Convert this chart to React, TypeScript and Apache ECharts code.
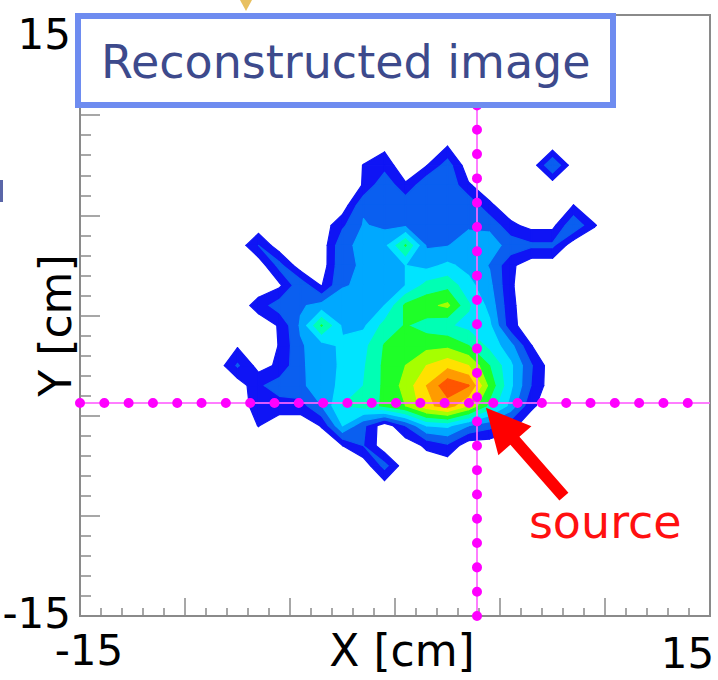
import React, { useEffect, useRef } from "react";
import * as echarts from "echarts";

// Axis range of the detector plane (cm)
const AXIS_MIN = -15;
const AXIS_MAX = 15;
const MAJOR_STEP = 5;

// Reconstructed intensity on a 1 cm bin-centre grid.
// First column is X = -8.5, first row is Y = 8.5 (rows run downwards in Y).
const GRID_X0 = -8.5;
const GRID_Y_TOP = 8.5;
const GRID_STEP = 1;

const INTENSITY: number[][] = [
  [0, 0, 0, 0, 0, 0, 0, 0, 0.6, 0, 0.5, 0.9, 0, 0, 0, 0, 0, 0, 0],
  [0, 0, 0, 0, 0, 0, 0, 1.05, 1.8, 0, 0.9, 3.2, 0, 0, 0, 0, 4, 0, 0],
  [0, 0, 0, 0, 0, 0, 0, 1.1, 3.8, 1.2, 3.8, 3.8, 1.2, 0, 0, 0, 0, 0, 0],
  [0, 0, 0, 0, 0, 0, 0, 3.8, 3.7, 3.7, 3.7, 3.7, 3.7, 1.3, 0, 0, 0, 1.02, 0],
  [0, 0, 0, 0, 0, 0, 2.2, 4.1, 3.7, 3.7, 3.7, 3.7, 3.7, 3.7, 1.35, 0.5, 0.5, 3.8, 1.1],
  [0, 0, 2.5, 0, 0, 0, 3.7, 4.3, 5, 8.6, 3.8, 3.9, 5, 4.6, 3.5, 2.8, 2.8, 0, 0],
  [0, 0, 0, 3.0, 0, 0, 3.8, 4.1, 4.4, 5.5, 5, 5.8, 5, 3.9, 1.35, 0, 0, 0, 0],
  [0, 0, 0, 0.7, 3.6, 0.9, 3.9, 4.2, 4.5, 5.5, 7.5, 8, 6, 4.4, 1.2, 0, 0, 0, 0],
  [0, 0, 1.7, 3.3, 3.8, 4.5, 4.6, 4.6, 5.5, 8.8, 9.6, 10.3, 7.2, 5, 1.35, 0, 0, 0, 0],
  [0, 0, 0, 1.15, 4.2, 8.6, 5.2, 5.2, 7.5, 8.6, 7.8, 7.2, 6.5, 5.8, 1.5, 0, 0, 0, 0],
  [0, 0.8, 0, 1.08, 3.8, 4.8, 5.8, 6.5, 8.6, 9.2, 9.5, 9.6, 8.5, 6.5, 4.5, 1.02, 0, 0, 0],
  [0, 2.7, 0.4, 1.3, 3.8, 4.6, 5.8, 6.8, 8.8, 10, 11.5, 12.5, 11.5, 8.5, 5.8, 2.6, 0, 0, 0],
  [0, 0, 2.2, 3.3, 3.8, 4.5, 6, 7, 8.8, 10.5, 13, 15.5, 14.6, 9.5, 5.8, 2.4, 0, 0, 0],
  [0, 0, 1.8, 1.8, 1.8, 4, 7, 7.5, 8.8, 10, 12.5, 13.8, 11.5, 8, 5, 1.3, 0, 0, 0],
  [0, 0, 1.05, 0, 0, 1.1, 5.5, 2.8, 0, 2.5, 5.5, 5.8, 4, 3, 1.5, 0, 0, 0, 0],
  [0, 0, 0, 0, 0, 0, 0.98, 2.5, 0, 0, 1.3, 2.2, 0, 0, 0, 0, 0, 0, 0],
  [0, 0, 0, 0, 0, 0, 0, 0, 3, 0, 0, 0, 0, 0, 0, 0, 0, 0, 0],
  [0, 0, 0, 0, 0, 0, 0, 0, 0.3, 0, 0, 0, 0, 0, 0, 0, 0, 0, 0],
];

// Contour levels and the fill colour of each band (rainbow palette)
const LEVELS = [1, 2.5, 4, 5.5, 7, 8.5, 10, 11.5, 13, 14.5];
const LEVEL_COLORS = [
  "#0f14f5",
  "#0a5ff0",
  "#00a8ff",
  "#00e4ff",
  "#00ffb4",
  "#1eff28",
  "#a6ff00",
  "#ffe100",
  "#ff9b00",
  "#ff5500",
];

// True source position (cm)
const SOURCE_X = 3.9;
const SOURCE_Y = -4.35;

const TITLE = "Reconstructed image";
const X_NAME = "X [cm]";
const Y_NAME = "Y [cm]";
const SOURCE_LABEL = "source";

const FONT = "DejaVu Sans";
const AXIS_GREY = "#8a8a8a";

const N_ROWS = INTENSITY.length;
const N_COLS = INTENSITY[0].length;

// Node value with a ring of zeros around the stored block (padded indices)
function nodeAt(r: number, c: number): number {
  const rr = r - 1;
  const cc = c - 1;
  if (rr < 0 || rr >= N_ROWS || cc < 0 || cc >= N_COLS) return 0;
  return INTENSITY[rr][cc];
}
const nodeX = (c: number) => GRID_X0 + (c - 1) * GRID_STEP;
const nodeY = (r: number) => GRID_Y_TOP - (r - 1) * GRID_STEP;

// One data item per grid cell that reaches the lowest level
function buildCells(): number[][] {
  const cells: number[][] = [];
  for (let r = 0; r <= N_ROWS; r++) {
    for (let c = 0; c <= N_COLS; c++) {
      const vs = [nodeAt(r + 1, c), nodeAt(r + 1, c + 1), nodeAt(r, c + 1), nodeAt(r, c)];
      if (Math.max(...vs) < LEVELS[0]) continue;
      cells.push([nodeX(c) + GRID_STEP / 2, nodeY(r) - GRID_STEP / 2, c, r]);
    }
  }
  return cells;
}

// Filled contour bands of one cell: for every level, walk the cell
// perimeter and keep the part at or above the level (linear along edges).
// z2 stacks the bands by level across all cells so that the seam strokes
// of a lower band never cover a higher one.
function renderCell(_params: any, api: any) {
  const c = api.value(2) as number;
  const r = api.value(3) as number;
  const corners = [
    { x: nodeX(c), y: nodeY(r + 1), v: nodeAt(r + 1, c) },
    { x: nodeX(c + 1), y: nodeY(r + 1), v: nodeAt(r + 1, c + 1) },
    { x: nodeX(c + 1), y: nodeY(r), v: nodeAt(r, c + 1) },
    { x: nodeX(c), y: nodeY(r), v: nodeAt(r, c) },
  ];
  const children: any[] = [];
  LEVELS.forEach((level, k) => {
    const pts: number[][] = [];
    for (let e = 0; e < 4; e++) {
      const p = corners[e];
      const q = corners[(e + 1) % 4];
      const pin = p.v >= level;
      const qin = q.v >= level;
      if (pin) pts.push(api.coord([p.x, p.y]));
      if (pin !== qin) {
        const t = (level - p.v) / (q.v - p.v);
        pts.push(api.coord([p.x + t * (q.x - p.x), p.y + t * (q.y - p.y)]));
      }
    }
    if (pts.length >= 3) {
      children.push({
        type: "polygon",
        z2: k,
        shape: { points: pts },
        style: { fill: LEVEL_COLORS[k], stroke: LEVEL_COLORS[k], lineWidth: 1.2, lineJoin: "round" },
      });
    }
  });
  return { type: "group", children };
}

const tickLabelStyle = { fontSize: 42, fontFamily: FONT, color: "#000", lineHeight: 42 };

export default function App() {
  const ref = useRef<HTMLDivElement>(null);

  useEffect(() => {
    if (!ref.current) return;
    const chart = echarts.init(ref.current, undefined, { renderer: "svg" });

    const option: any = {
      animation: false,
      backgroundColor: "#ffffff",
      title: {
        text: TITLE,
        left: 78,
        top: 16,
        padding: [23, 23, 20, 23],
        borderColor: "#6e8cf0",
        borderWidth: 6,
        backgroundColor: "#ffffff",
        textStyle: {
          fontSize: 46,
          lineHeight: 46,
          fontWeight: "normal",
          color: "#3d4a8c",
          fontFamily: FONT,
        },
      },
      grid: {
        left: 80,
        top: 15,
        right: 8,
        bottom: 64,
        containLabel: false,
        outerBoundsMode: "none",
        show: true,
        borderColor: AXIS_GREY,
        borderWidth: 2,
        backgroundColor: "transparent",
      },
      xAxis: {
        type: "value",
        min: AXIS_MIN,
        max: AXIS_MAX,
        interval: MAJOR_STEP,
        axisLine: { show: true, onZero: false, lineStyle: { color: AXIS_GREY, width: 2 } },
        axisTick: { show: true, inside: true, length: 18, lineStyle: { color: AXIS_GREY, width: 1.5 } },
        minorTick: { show: true, splitNumber: 5, length: 8, lineStyle: { color: AXIS_GREY, width: 1.5 } },
        splitLine: { show: false },
        axisLabel: {
          margin: 13,
          formatter: (v: number) =>
            v === AXIS_MIN ? `{lo|${v}}` : v === AXIS_MAX ? `{hi|${v}}` : "",
          rich: {
            lo: { ...tickLabelStyle, padding: [0, 0, 0, 18] },
            hi: { ...tickLabelStyle, padding: [6, 45, 0, 0] },
          },
        },
        name: X_NAME,
        nameLocation: "middle",
        nameGap: 12,
        nameMoveOverlap: false,
        nameTextStyle: { fontSize: 44, fontFamily: FONT, color: "#000", padding: [0, 0, 0, 14] },
      },
      yAxis: {
        type: "value",
        min: AXIS_MIN,
        max: AXIS_MAX,
        interval: MAJOR_STEP,
        axisLine: { show: true, onZero: false, lineStyle: { color: AXIS_GREY, width: 2 } },
        axisTick: { show: true, inside: true, length: 20, lineStyle: { color: AXIS_GREY, width: 1.5 } },
        minorTick: { show: true, splitNumber: 5, length: 11, lineStyle: { color: AXIS_GREY, width: 1.5 } },
        splitLine: { show: false },
        axisLabel: {
          margin: 9,
          formatter: (v: number) =>
            v === AXIS_MIN ? `{lo|${v}}` : v === AXIS_MAX ? `{hi|${v}}` : "",
          rich: {
            lo: { ...tickLabelStyle, padding: [0, 0, 6, 0] },
            hi: { ...tickLabelStyle, padding: [38, 0, 0, 0] },
          },
        },
        name: Y_NAME,
        nameLocation: "middle",
        nameGap: 3,
        nameMoveOverlap: false,
        nameTextStyle: { fontSize: 44, fontFamily: FONT, color: "#000", padding: [0, 20, 0, 0] },
      },
      series: [
        {
          type: "custom",
          name: "intensity",
          coordinateSystem: "cartesian2d",
          renderItem: renderCell,
          data: buildCells(),
          encode: { x: 0, y: 1 },
          clip: true,
          silent: true,
          z: 2,
        },
        {
          type: "line",
          name: "source guide",
          data: [],
          silent: true,
          z: 3,
          markLine: {
            silent: true,
            symbol: ["none", "none"],
            label: { show: false },
            lineStyle: { color: "#ff66ff", width: 2, type: "solid", opacity: 0.85 },
            data: [{ xAxis: SOURCE_X }, { yAxis: SOURCE_Y }],
          },
        },
        {
          type: "line",
          name: "source dots",
          data: [],
          silent: true,
          z: 4,
          markLine: {
            silent: true,
            symbol: ["none", "none"],
            label: { show: false },
            lineStyle: { color: "#ff00ff", width: 10, type: [0.01, 24.3], cap: "round" },
            data: [{ xAxis: SOURCE_X }, { yAxis: SOURCE_Y }],
          },
        },
      ],
    };

    chart.setOption(option);

    // Arrow and label pointing at the source, placed from its pixel position
    const [sx, sy] = chart.convertToPixel({ gridIndex: 0 }, [SOURCE_X, SOURCE_Y]) as number[];
    const tip = [sx + 9, sy + 5];
    const tail = [sx + 87, sy + 94];
    const dx = tip[0] - tail[0];
    const dy = tip[1] - tail[1];
    const len = Math.hypot(dx, dy);
    const ux = dx / len;
    const uy = dy / len;
    const nx = -uy;
    const ny = ux;
    const headLen = 44;
    const headHalf = 22;
    const shaftHalf = 6;
    const base = [tip[0] - ux * headLen, tip[1] - uy * headLen];
    const arrowPts = [
      tip,
      [base[0] + nx * headHalf, base[1] + ny * headHalf],
      [base[0] + nx * shaftHalf, base[1] + ny * shaftHalf],
      [tail[0] + nx * shaftHalf, tail[1] + ny * shaftHalf],
      [tail[0] - nx * shaftHalf, tail[1] - ny * shaftHalf],
      [base[0] - nx * shaftHalf, base[1] - ny * shaftHalf],
      [base[0] - nx * headHalf, base[1] - ny * headHalf],
    ];

    chart.setOption({
      graphic: [
        {
          type: "polygon",
          z: 10,
          silent: true,
          shape: { points: arrowPts },
          style: { fill: "#ff0000" },
        },
        {
          type: "text",
          z: 10,
          silent: true,
          x: sx + 52,
          y: sy + 119,
          style: {
            text: SOURCE_LABEL,
            fill: "#ff1010",
            font: `46px "${FONT}"`,
            textAlign: "left",
            textVerticalAlign: "middle",
          },
        },
        {
          type: "polygon",
          z: 10,
          silent: true,
          shape: { points: [[240, 0], [252, 0], [246, 11]] },
          style: { fill: "#e8c060" },
        },
        {
          type: "rect",
          z: 10,
          silent: true,
          shape: { x: 0, y: 180, width: 3, height: 22 },
          style: { fill: "#5a66a8" },
        },
      ],
    });

    return () => chart.dispose();
  }, []);

  return (
    <div
      ref={ref}
      style={{ position: "absolute", left: 0, top: 0, width: 718, height: 680 }}
    />
  );
}
